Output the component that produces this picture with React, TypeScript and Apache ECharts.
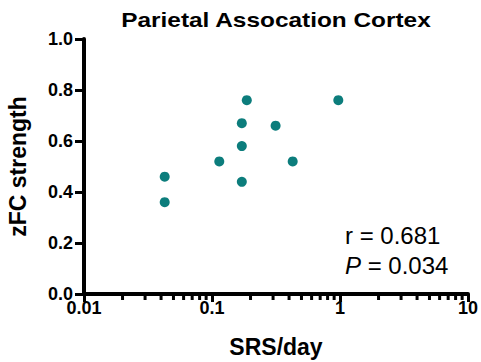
import React, { useEffect, useRef } from "react";
import * as echarts from "echarts";

const srsPerDay = [0.187, 0.97, 0.171, 0.314, 0.171, 0.114, 0.427, 0.0427, 0.171, 0.0427];
const zfcStrength = [0.76, 0.76, 0.67, 0.66, 0.58, 0.52, 0.52, 0.46, 0.44, 0.36];
const minorTickValues = [
  0.02, 0.03, 0.04, 0.05, 0.06, 0.07, 0.08, 0.09,
  0.2, 0.3, 0.4, 0.5, 0.6, 0.7, 0.8, 0.9,
  2, 3, 4, 5, 6, 7, 8, 9,
];
const titleText = "Parietal Assocation Cortex";
const xName = "SRS/day";
const yName = "zFC strength";
const rText = "r = 0.681";
const pValue = "0.034";

const FONT = "'Liberation Sans', Arial, Helvetica, sans-serif";
const TEAL = "#0c7d7c";

export default function App() {
  const ref = useRef<HTMLDivElement>(null);
  useEffect(() => {
    if (!ref.current) return;
    const chart = echarts.init(ref.current, null, { renderer: "svg" });
    chart.setOption({
      animation: false,
      backgroundColor: "#ffffff",
      textStyle: { fontFamily: FONT },
      grid: { left: 84, right: 13, top: 39, bottom: 68, containLabel: false, outerBoundsMode: "none" },
      xAxis: {
        type: "log",
        logBase: 10,
        min: 0.01,
        max: 10,
        name: xName,
        nameLocation: "middle",
        nameGap: 41,
        nameTextStyle: { fontFamily: FONT, fontWeight: "bold", fontSize: 23, color: "#000" },
        axisLine: { show: true, lineStyle: { color: "#000", width: 4 } },
        axisTick: { show: true, length: 8, lineStyle: { color: "#000", width: 3 } },
        axisLabel: {
          margin: 5,
          fontFamily: FONT,
          fontWeight: "bold",
          fontSize: 18,
          color: "#000",
          formatter: (v: number) => String(+v.toPrecision(3)),
        },
        splitLine: { show: false },
        minorTick: { show: false },
      },
      yAxis: {
        type: "value",
        min: 0,
        max: 1,
        interval: 0.2,
        name: yName,
        nameLocation: "middle",
        nameGap: 55,
        nameTextStyle: { fontFamily: FONT, fontWeight: "bold", fontSize: 23, color: "#000" },
        axisLine: { show: true, lineStyle: { color: "#000", width: 4 } },
        axisTick: { show: true, length: 9, lineStyle: { color: "#000", width: 3 } },
        axisLabel: {
          margin: 11,
          fontFamily: FONT,
          fontWeight: "bold",
          fontSize: 18,
          color: "#000",
          formatter: (v: number) => v.toFixed(1),
        },
        splitLine: { show: false },
      },
      series: [
        {
          type: "custom",
          silent: true,
          clip: false,
          data: minorTickValues.map((v) => [v, 0]),
          encode: { x: 0, y: 1 },
          renderItem: (_params: any, api: any) => {
            const p = api.coord([api.value(0), 0]);
            return {
              type: "line",
              shape: { x1: p[0], y1: p[1], x2: p[0], y2: p[1] + 6 },
              style: { stroke: "#000", lineWidth: 3 },
            };
          },
          z: 1,
        },
        {
          type: "scatter",
          symbol: "circle",
          symbolSize: 10,
          clip: false,
          itemStyle: { color: TEAL, opacity: 1 },
          data: srsPerDay.map((x, i) => [x, zfcStrength[i]]),
          z: 3,
        },
      ],
      graphic: [
        {
          type: "text",
          x: 276,
          y: 20,
          scaleX: 1.22,
          style: {
            text: titleText,
            fontFamily: FONT,
            fontWeight: "bold",
            fontSize: 20,
            fill: "#000",
            verticalAlign: "middle",
            align: "center",
          },
        },
        {
          type: "text",
          x: 345,
          y: 235,
          style: {
            text: rText,
            fontFamily: FONT,
            fontSize: 24,
            fill: "#000",
            verticalAlign: "middle",
            align: "left",
          },
        },
        {
          type: "text",
          x: 345,
          y: 265,
          style: {
            text: "{i|P} = " + pValue,
            fontFamily: FONT,
            fontSize: 24,
            fill: "#000",
            verticalAlign: "middle",
            align: "left",
            rich: {
              i: { fontFamily: FONT, fontSize: 24, fontStyle: "italic", fill: "#000" },
            },
          },
        },
      ],
    });
    return () => chart.dispose();
  }, []);
  return (
    <div
      ref={ref}
      style={{ position: "absolute", left: 0, top: 0, width: 481, height: 362 }}
    />
  );
}
